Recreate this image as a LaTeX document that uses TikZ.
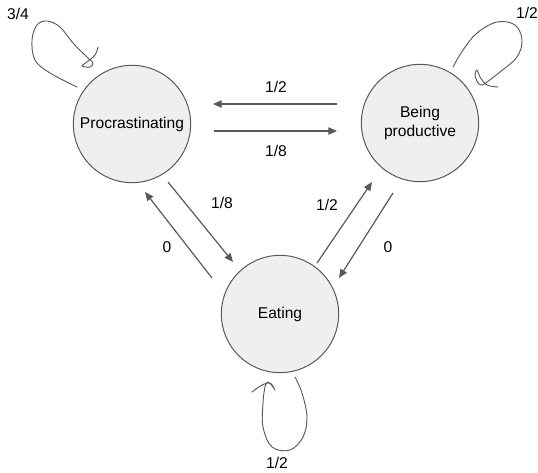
\documentclass[tikz,border=0pt]{standalone}
\usepackage{fontspec}
\setmainfont{Liberation Sans}
\usetikzlibrary{arrows.meta}
\definecolor{garis}{HTML}{595959}
\definecolor{isi}{HTML}{EFEFEF}
\begin{document}
\begin{tikzpicture}[x=0.75pt,y=-0.75pt,font=\fontsize{11.7}{14.3}\selectfont,
    state/.style={circle,draw=garis,fill=isi,line width=0.75pt,minimum size=88pt,inner sep=0pt,align=center},
    edge/.style={draw=garis,line width=0.9pt,-{Triangle[length=6.5pt,width=5.5pt]}},
    loopline/.style={draw=garis,line width=0.7pt,line cap=round,line join=round}]
  \useasboundingbox (0,0) rectangle (538,472);

  % States
  \node[state] (p) at (132,124) {Procrastinating};
  \node[state] (b) at (420,123) {Being\\productive};
  \node[state] (e) at (280,314) {Eating};

  % Transitions between states
  \draw[edge] ([shift={(-83,-19)}]b.center) -- ([shift={(81,-20)}]p.center);
  \node (lbp) at (276,87) {1/2};
  \draw[edge] ([shift={(82,7)}]p.center) -- ([shift={(-83,8)}]b.center);
  \node (lpb) at (276,151) {1/8};
  \draw[edge] ([shift={(36,58)}]p.center) -- ([shift={(-47,-52)}]e.center);
  \node (lpe) at (222,203) {1/8};
  \draw[edge] ([shift={(-68,-36)}]e.center) -- ([shift={(13,68)}]p.center);
  \node (lep) at (167,247) {0};
  \draw[edge] ([shift={(37,-51)}]e.center) -- ([shift={(-48,59)}]b.center);
  \node (leb) at (327,205) {1/2};
  \draw[edge] ([shift={(-27,70)}]b.center) -- ([shift={(59,-36)}]e.center);
  \node (lbe) at (388,247) {0};

  % Self loops, drawn by hand
  \draw[loopline] plot[smooth,tension=0.6] coordinates {(77,87) (50,73) (35,60) (32,40) (37,25) (47,21) (60,27) (73,43) (88,58) (93,63) (90,67) (82,66) (87,62) (95,55) (98,47)};
  \node (lpp) at (18,14) {3/4};
  \draw[loopline] plot[smooth,tension=0.6] coordinates {(453,67) (463,50) (477,33) (497,22) (515,25) (522,40) (517,57) (500,72) (487,82) (482,85) (478,83) (475,75) (477,70) (480,77) (487,85) (498,87)};
  \node (lbb) at (527,13) {1/2};
  \draw[loopline] plot[smooth,tension=0.6] coordinates {(295,377) (302,393) (307,417) (303,437) (290,450) (272,447) (263,427) (263,403) (265,387) (268,382) (273,387) (275,390) (270,383) (262,385) (252,392)};
  \node (lee) at (277,463) {1/2};
\end{tikzpicture}
\end{document}
